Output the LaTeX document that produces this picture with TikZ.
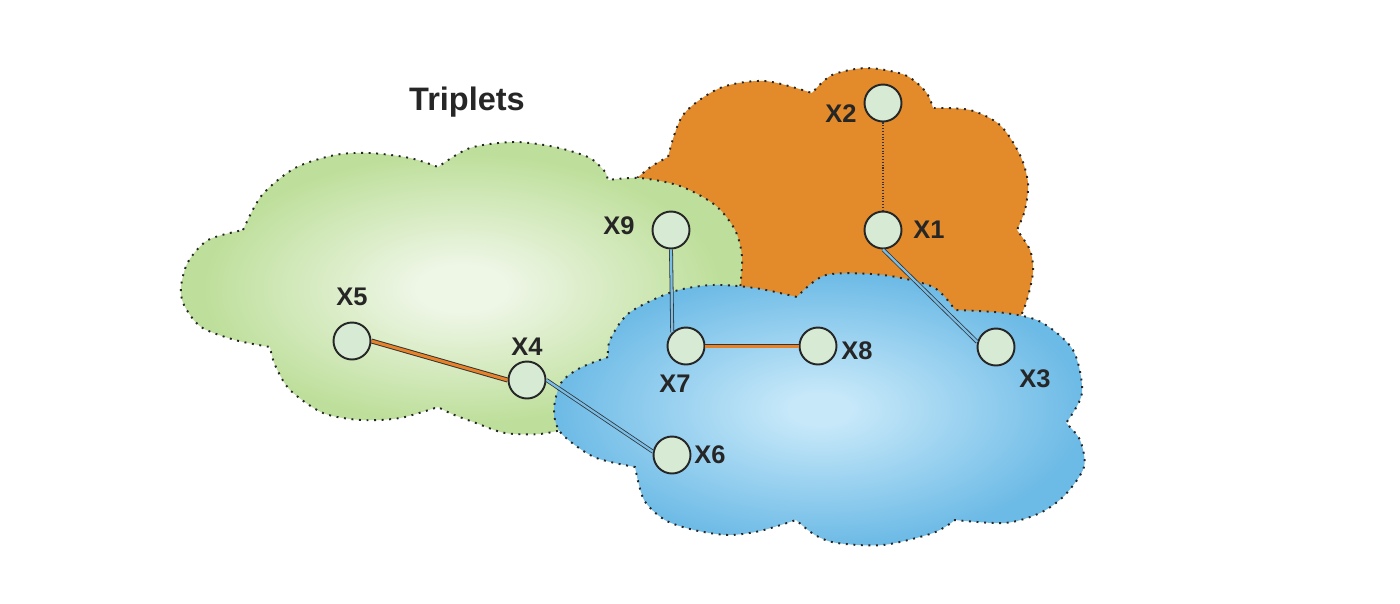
\documentclass[tikz,border=0pt]{standalone}
\usepackage{fontspec}
\setmainfont{Liberation Sans}
\usetikzlibrary{positioning}

\definecolor{greenin}{RGB}{238,246,230}
\definecolor{greenout}{RGB}{190,223,155}
\definecolor{bluein}{RGB}{198,232,249}
\definecolor{blueout}{RGB}{108,186,230}
\definecolor{orangefill}{RGB}{227,138,42}
\definecolor{nodefill}{RGB}{214,234,212}
\definecolor{linkblue}{RGB}{120,190,232}
\definecolor{linkorange}{RGB}{232,130,40}

\pgfdeclareradialshading{greenglow}{\pgfpoint{0bp}{0bp}}{color(0bp)=(greenin); color(4bp)=(greenin); color(23bp)=(greenout); color(50bp)=(greenout)}
\pgfdeclareradialshading{blueglow}{\pgfpoint{0bp}{0bp}}{color(0bp)=(bluein); color(3bp)=(bluein); color(25bp)=(blueout); color(50bp)=(blueout)}

\begin{document}
\begin{tikzpicture}[x=0.02cm, y=-0.02cm]
    \tikzstyle{cloud line} = [draw=black!85, line width=1.1pt, dash pattern=on 1.1pt off 3.2pt]
    \tikzstyle{point} = [circle, draw=black!85, line width=1.1pt, fill=nodefill, minimum size=0.74cm, inner sep=0pt]
    \tikzstyle{tag} = [font=\bfseries\fontsize{14.5}{17}\selectfont, text=black!85, inner sep=0pt]
    \tikzstyle{blue link} = [draw=black!80, line width=0.45pt, double=linkblue, double distance=1.3pt]
    \tikzstyle{orange link} = [draw=black!80, line width=0.55pt, double=linkorange, double distance=1.7pt]
    \tikzstyle{dot link} = [draw=black!80, line width=0.6pt, densely dotted]

    \useasboundingbox (0,0) rectangle (1400,603);

    % Orange cloud
    \path [fill=orangefill, cloud line] (637,178)
        -- plot[smooth] coordinates {(637,178) (652,166) (668,157)}
        -- plot[smooth] coordinates {(668,157) (683,115) (720,88) (765,81) (812,93)}
        -- plot[smooth] coordinates {(812,93) (832,75) (867,68) (905,75) (926,92) (933,108)}
        -- plot[smooth] coordinates {(933,108) (970,110) (1000,125) (1020,155) (1028,183) (1025,210) (1017,230)}
        -- plot[smooth] coordinates {(1017,230) (1030,250) (1033,272) (1027,300) (1020,318)}
        -- (980,345) -- (800,345) -- (700,330) -- (625,300) -- (622,200) -- cycle;

    % Green cloud
    \path [shade, shading=greenglow, cloud line] (243,230)
        -- plot[smooth] coordinates {(243,230) (262,195) (295,168) (335,155) (370,153) (410,158) (438,167)}
        -- plot[smooth] coordinates {(438,167) (470,148) (514,142) (555,147) (590,158) (606,173)}
        -- plot[smooth] coordinates {(606,173) (608,180)}
        -- plot[smooth] coordinates {(608,180) (640,178) (680,186) (715,205) (735,230) (742,257) (740,290)}
        -- (700,340) -- (620,410) -- (570,428)
        -- plot[smooth] coordinates {(570,428) (540,434) (505,433) (476,423) (452,414) (438,407)}
        -- plot[smooth] coordinates {(438,407) (400,418) (361,420) (323,413) (290,390) (275,365) (270,347)}
        -- plot[smooth] coordinates {(270,347) (235,340) (201,327) (184,305) (181,287) (188,262) (208,240) (243,230)}
        -- cycle;

    % Blue cloud
    \path [shade, shading=blueglow, cloud line] (608,357)
        -- plot[smooth] coordinates {(608,357) (580,368) (561,383) (554,410) (561,433) (594,457) (635,467)}
        -- plot[smooth] coordinates {(635,467) (644,500) (665,520) (694,530) (728,535) (760,531) (796,520)}
        -- plot[smooth] coordinates {(796,520) (815,535) (837,543) (883,545) (933,533) (955,520)}
        -- plot[smooth] coordinates {(955,520) (1005,523) (1040,513) (1065,495) (1084,467) (1080,440) (1066,423)}
        -- plot[smooth] coordinates {(1066,423) (1082,393) (1073,350) (1041,322) (1005,313) (955,310)}
        -- plot[smooth] coordinates {(955,310) (933,287) (883,275) (826,275) (797,297)}
        -- plot[smooth] coordinates {(797,297) (755,288) (712,285) (672,292) (629,313) (610,340) (608,357)}
        -- cycle;

    % Title
    \node [font=\bfseries\fontsize{18.5}{22}\selectfont, text=black!85, inner sep=0pt, anchor=base] (title) at (467,110) {Triplets};

    % Points
    \node [point] (x1) at (883,230) {};
    \node [point] (x2) at (883,103) {};
    \node [point] (x3) at (996,347) {};
    \node [point] (x4) at (527,380) {};
    \node [point] (x5) at (352,341) {};
    \node [point] (x6) at (672,455) {};
    \node [point] (x7) at (686,346) {};
    \node [point] (x8) at (818,346) {};
    \node [point] (x9) at (671,230) {};

    % Labels
    \node [tag, right of=x1, node distance=0.92cm] (t1) {X1};
    \node [tag, left of=x2, node distance=0.84cm, yshift=-0.21cm] (t2) {X2};
    \node [tag, right of=x3, node distance=0.78cm, yshift=-0.64cm] (t3) {X3};
    \node [tag, above of=x4, node distance=0.66cm] (t4) {X4};
    \node [tag, above of=x5, node distance=0.88cm] (t5) {X5};
    \node [tag, right of=x6, node distance=0.76cm] (t6) {X6};
    \node [tag, below of=x7, node distance=0.76cm, xshift=-0.22cm] (t7) {X7};
    \node [tag, right of=x8, node distance=0.78cm, yshift=-0.1cm] (t8) {X8};
    \node [tag, left of=x9, node distance=1.04cm, yshift=0.08cm] (t9) {X9};

    % Links
    \draw [dot link] (x2) -- (x1);
    \draw [blue link] (x1.south) -- (x3.165);
    \draw [blue link] (x9.south) -- (x7.north west);
    \draw [blue link] (x4.east) -- (x6.170);
    \draw [orange link] (x5.east) -- (x4.west);
    \draw [orange link] (x7) -- (x8);
\end{tikzpicture}
\end{document}
